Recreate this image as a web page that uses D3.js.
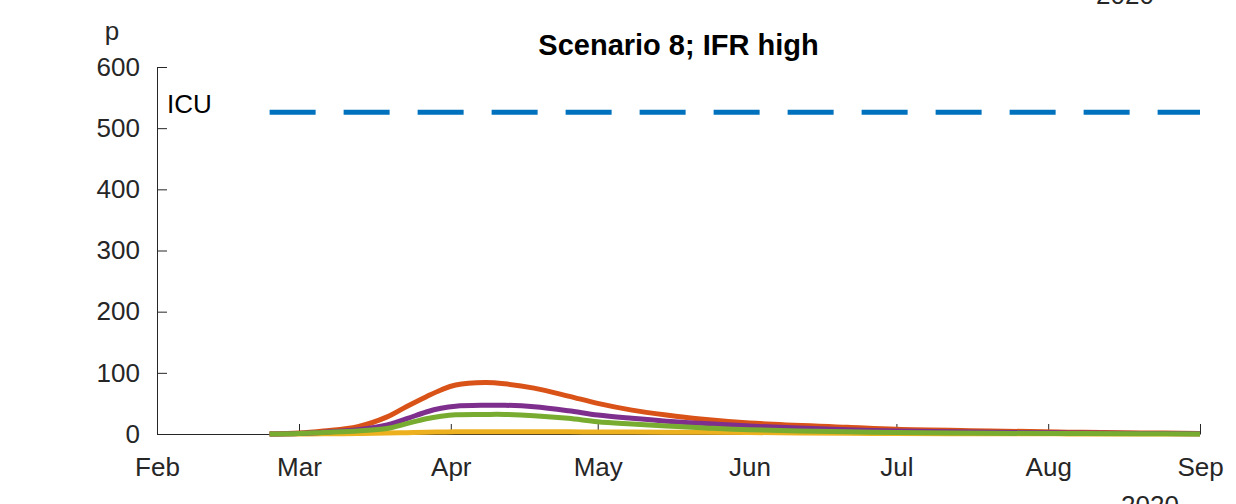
<!DOCTYPE html>
<html>
<head>
<meta charset="utf-8">
<script src="https://cdn.jsdelivr.net/npm/d3@7"></script>
<style>
  body { margin: 0; background: #fff; }
  svg { display: block; font-family: "Liberation Sans", Arial, sans-serif; }
  .axis path, .axis line { stroke: #262626; }
  .axis text { fill: #262626; font-size: 26px; }
</style>
</head>
<body>
<div id="vis"></div>
<script>
// dates of the sampled points (2020)
var dates = ["2020-02-24", "2020-03-01", "2020-03-06", "2020-03-13", "2020-03-19", "2020-03-23",
             "2020-03-27", "2020-03-30", "2020-04-02", "2020-04-08", "2020-04-12", "2020-04-18",
             "2020-04-25", "2020-05-01", "2020-05-08", "2020-05-15", "2020-05-22", "2020-06-01",
             "2020-06-21", "2020-07-01", "2020-07-20", "2020-08-05", "2020-08-20", "2020-09-01"];

var orange = [0, 1.5, 5, 12, 28, 45, 61, 72, 80, 84, 82, 75, 62, 50, 39, 31, 24.5, 18, 11, 7.6, 5, 3, 1.8, 1];
var yellow = [0, 0.1, 0.3, 0.8, 1.5, 2.2, 2.8, 3.2, 3.5, 3.8, 3.8, 3.7, 3.5, 3.3, 3.1, 2.9, 2.7, 2.4, 1.2, 0.8, 0.4, 0.2, 0.1, 0.05];
var purple = [0, 1, 3, 7, 15, 25, 36, 42, 45.5, 47, 47, 44.5, 38, 31, 25.6, 21, 17.5, 13, 7, 5, 3, 1.8, 1, 0.6];
var green  = [0, 0.8, 2.5, 5, 9, 17, 25, 29, 31.5, 32, 32, 30, 25.6, 20, 16.3, 13, 10.4, 7, 3.5, 2.5, 1.2, 0.7, 0.4, 0.2];

var icuLevel = 526;
var icuStart = "2020-02-24", icuEnd = "2020-09-01";

var xDomain = ["2020-02-01", "2020-09-01"];
var yTicks = [0, 100, 200, 300, 400, 500, 600];

var series = [
  {name: "orange", values: orange, color: "#D95319"},
  {name: "yellow", values: yellow, color: "#EDB120"},
  {name: "purple", values: purple, color: "#7E2F8E"},
  {name: "green",  values: green,  color: "#77AC30"}
];

var W = 1236, H = 504;
var margin = {top: 67, right: 36, bottom: 70, left: 157};
var width = W - margin.left - margin.right,
    height = H - margin.top - margin.bottom;

var parse = d3.timeParse("%Y-%m-%d");

var svg = d3.select("#vis").append("svg")
  .attr("width", W)
  .attr("height", H);

var g = svg.append("g")
  .attr("transform", "translate(" + margin.left + "," + margin.top + ")");

var x = d3.scaleTime()
  .domain(xDomain.map(parse))
  .range([0, width]);

var y = d3.scaleLinear()
  .domain([0, 600])
  .range([height, 0]);

// axes (MATLAB style, ticks pointing inward, no box)
g.append("g")
  .attr("class", "axis")
  .attr("transform", "translate(0," + height + ")")
  .call(d3.axisBottom(x)
    .ticks(d3.timeMonth.every(1))
    .tickFormat(d3.timeFormat("%b"))
    .tickSizeInner(-10)
    .tickSizeOuter(0)
    .tickPadding(24));

g.append("g")
  .attr("class", "axis")
  .call(d3.axisLeft(y)
    .tickValues(yTicks)
    .tickSizeInner(-10)
    .tickSizeOuter(0)
    .tickPadding(17));

// ICU capacity
g.append("line")
  .attr("x1", x(parse(icuStart)))
  .attr("x2", x(parse(icuEnd)))
  .attr("y1", y(icuLevel))
  .attr("y2", y(icuLevel))
  .attr("stroke", "#0072BD")
  .attr("stroke-width", 5)
  .attr("stroke-dasharray", "46,28");

g.append("text")
  .attr("x", 10)
  .attr("y", y(icuLevel) + 1)
  .attr("font-size", 26)
  .attr("fill", "#000")
  .text("ICU");

var line = d3.line()
  .x(function(d, i) { return x(parse(dates[i])); })
  .y(function(d) { return y(d); })
  .curve(d3.curveCatmullRom.alpha(0.5));

g.selectAll(".series")
  .data(series)
  .enter().append("path")
  .attr("class", "series")
  .attr("fill", "none")
  .attr("stroke", function(d) { return d.color; })
  .attr("stroke-width", 5)
  .attr("d", function(d) { return line(d.values); });

// labels
svg.append("text")
  .attr("x", margin.left + width / 2)
  .attr("y", 55)
  .attr("text-anchor", "middle")
  .attr("font-weight", "bold")
  .attr("font-size", 29)
  .attr("fill", "#000")
  .text("Scenario 8; IFR high");

svg.append("text")
  .attr("x", 112)
  .attr("y", 40)
  .attr("text-anchor", "middle")
  .attr("font-size", 26)
  .attr("fill", "#262626")
  .text("p");

svg.append("text")
  .attr("x", 1150)
  .attr("y", 514)
  .attr("text-anchor", "middle")
  .attr("font-size", 26)
  .attr("fill", "#262626")
  .text("2020");

svg.append("text")
  .attr("x", 1125)
  .attr("y", 4)
  .attr("text-anchor", "middle")
  .attr("font-size", 26)
  .attr("fill", "#262626")
  .text("2020");
</script>
</body>
</html>
